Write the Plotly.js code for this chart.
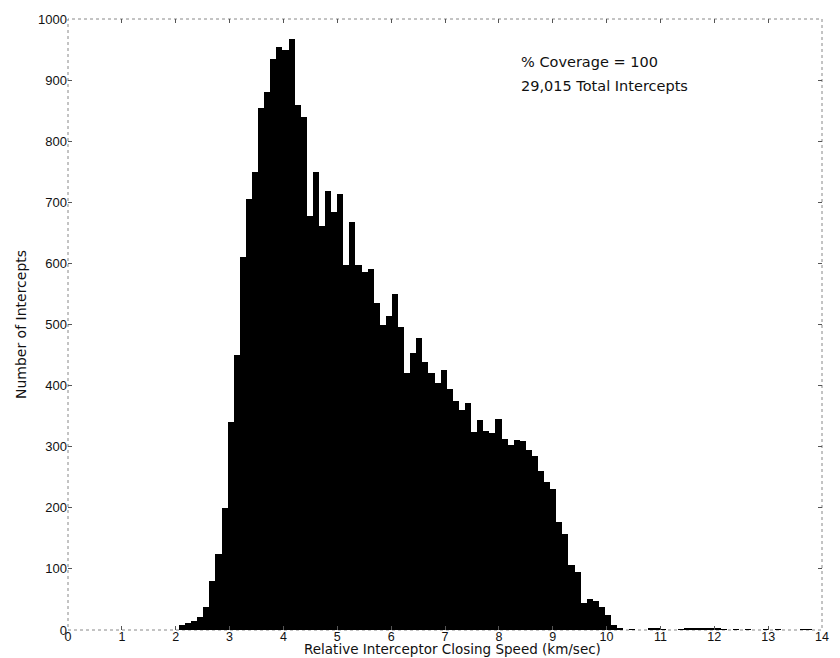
<!DOCTYPE html>
<html>
<head>
<meta charset="utf-8">
<script src="https://cdn.plot.ly/plotly-3.0.1.min.js"></script>
<style>
  html, body { margin: 0; padding: 0; background: #ffffff; }
  #chart { width: 840px; height: 658px; }
</style>
</head>
<body>
<div id="chart"></div>
<script>
// Bin centres (km/sec) of the histogram
var binCenters = [
  2.117, 2.230, 2.343, 2.456, 2.569, 2.682, 2.795, 2.908, 3.021, 3.134,
  3.247, 3.360, 3.473, 3.586, 3.699, 3.812, 3.925, 4.038, 4.151, 4.264,
  4.377, 4.490, 4.603, 4.716, 4.829, 4.942, 5.055, 5.168, 5.281, 5.394,
  5.507, 5.620, 5.733, 5.846, 5.959, 6.072, 6.185, 6.298, 6.411, 6.524,
  6.637, 6.750, 6.863, 6.976, 7.089, 7.202, 7.315, 7.428, 7.541, 7.654,
  7.767, 7.880, 7.993, 8.106, 8.219, 8.332, 8.445, 8.558, 8.671, 8.784,
  8.897, 9.010, 9.123, 9.236, 9.349, 9.462, 9.575, 9.688, 9.801, 9.914,
  10.027, 10.140, 10.253, 10.366, 10.479, 10.592, 10.705, 10.818, 10.931, 11.044,
  11.157, 11.270, 11.383, 11.496, 11.609, 11.722, 11.835, 11.948, 12.061, 12.174,
  12.287, 12.400, 12.513, 12.626, 12.739, 12.852, 12.965, 13.078, 13.191, 13.304,
  13.417, 13.530, 13.643, 13.756
];

// Number of intercepts per bin
var interceptCounts = [
  8, 12, 14, 22, 38, 80, 125, 200, 340, 450,
  610, 705, 750, 855, 880, 935, 955, 950, 967, 860,
  840, 678, 750, 662, 718, 684, 714, 597, 668, 598,
  586, 591, 536, 500, 514, 550, 496, 420, 453, 478,
  438, 420, 405, 425, 395, 375, 360, 372, 324, 344,
  326, 322, 346, 312, 303, 311, 310, 295, 285, 260,
  242, 230, 177, 157, 107, 95, 45, 50, 47, 38,
  25, 9, 4, 0, 1, 0, 0, 2, 4, 1,
  0, 0, 1, 2, 2, 2, 2, 3, 3, 1,
  0, 1, 0, 1, 0, 0, 1, 0, 1, 0,
  0, 0, 1, 1
];

var xTickValues = [0, 1, 2, 3, 4, 5, 6, 7, 8, 9, 10, 11, 12, 13, 14];
var yTickValues = [0, 100, 200, 300, 400, 500, 600, 700, 800, 900, 1000];

var noteLines = ["% Coverage = 100", "29,015 Total Intercepts"];
var noteY = [930, 890];
var noteX = 8.37;

var xTitle = "Relative Interceptor Closing Speed (km/sec)";
var yTitle = "Number of Intercepts";

var binWidth = 0.113;
var FONT = "Liberation Sans, Arial, Helvetica, sans-serif";
var WIDE = "DejaVu Sans, Liberation Sans, Arial, sans-serif";

var trace = {
  type: "bar",
  x: binCenters,
  y: interceptCounts,
  width: binWidth,
  marker: { color: "#000000", line: { width: 0 } },
  hoverinfo: "x+y"
};

var annotations = noteLines.map(function (t, i) {
  return {
    x: noteX, y: noteY[i], xref: "x", yref: "y",
    text: t, showarrow: false, xanchor: "left", yanchor: "middle",
    font: { family: WIDE, size: 14.5, color: "#111111" }
  };
});

// x-axis title drawn as text just below the tick labels (the reference packs them tightly)
var marginB = 28;
var plotH = 658 - 19 - marginB;
annotations.push({
  x: 0.51, y: -marginB / plotH, xref: "paper", yref: "paper",
  text: xTitle, showarrow: false, xanchor: "center", yanchor: "bottom",
  borderpad: 0,
  font: { family: WIDE, size: 13.5, color: "#111111" }
});

var layout = {
  width: 840,
  height: 658,
  margin: { l: 68, r: 18, t: 19, b: marginB, pad: 0 },
  paper_bgcolor: "#ffffff",
  plot_bgcolor: "#ffffff",
  showlegend: false,
  bargap: 0,
  font: { family: FONT, size: 13, color: "#111111" },
  xaxis: {
    range: [0, 14],
    tickmode: "array",
    tickvals: xTickValues,
    ticktext: xTickValues.map(String),
    ticks: "inside",
    ticklen: 4,
    tickcolor: "#555555",
    ticklabelstandoff: -3,
    mirror: "ticks",
    showline: false,
    showgrid: false,
    zeroline: false,
    tickfont: { family: FONT, size: 12.5, color: "#111111" }
  },
  yaxis: {
    range: [0, 1000],
    tickmode: "array",
    tickvals: yTickValues,
    ticktext: yTickValues.map(String),
    ticks: "inside",
    ticklen: 4,
    tickcolor: "#555555",
    mirror: "ticks",
    showline: false,
    showgrid: false,
    zeroline: false,
    tickfont: { family: FONT, size: 13, color: "#111111" },
    title: { text: yTitle, standoff: 8,
             font: { family: WIDE, size: 14, color: "#111111" } }
  },
  shapes: [{
    type: "rect", xref: "paper", yref: "paper",
    x0: 0, x1: 1, y0: 0, y1: 1,
    line: { color: "#888888", width: 1, dash: "dot" },
    fillcolor: "rgba(0,0,0,0)", layer: "below"
  }],
  annotations: annotations
};

Plotly.newPlot("chart", [trace], layout, { displayModeBar: false, responsive: false });
</script>
</body>
</html>
